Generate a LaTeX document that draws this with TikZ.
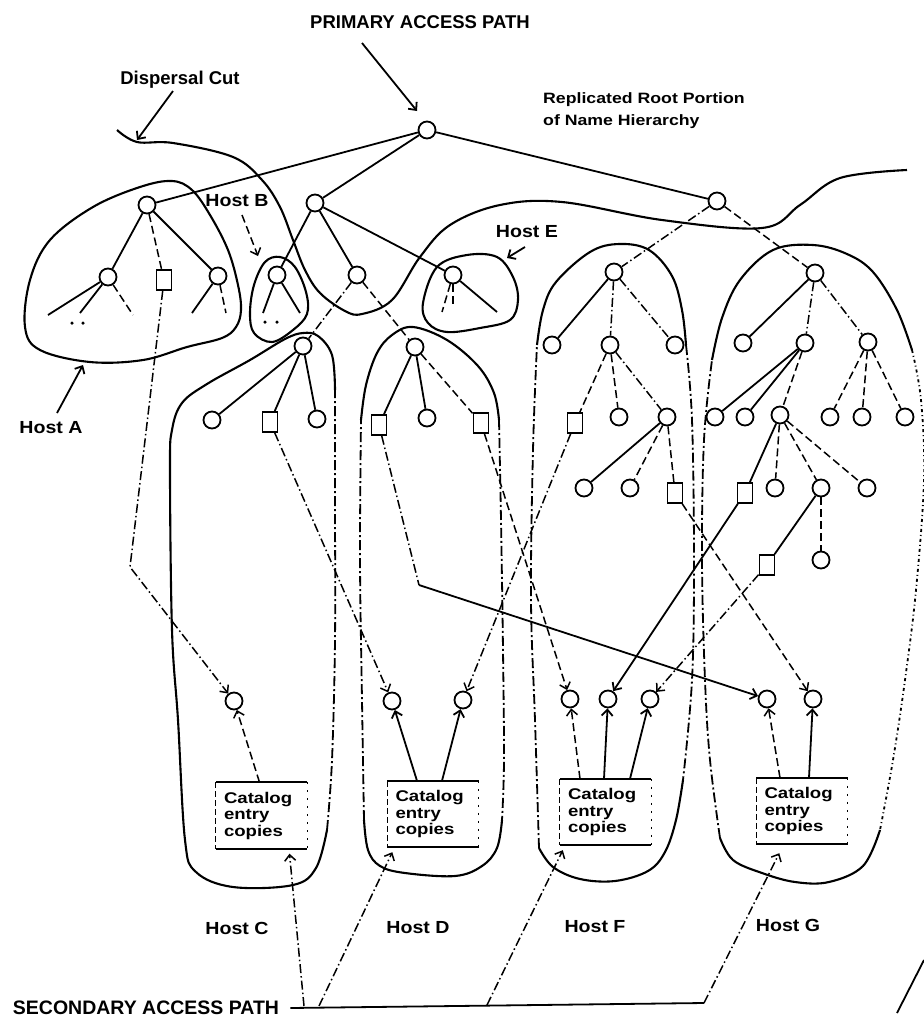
\documentclass[tikz,border=0pt]{standalone}
\usepackage{fontspec}
\setmainfont{Liberation Sans}
\newfontfamily\hfont[FakeStretch=1.12]{Liberation Sans}
\newfontfamily\rfont[FakeStretch=1.18]{Liberation Sans}
\newfontfamily\bxfont[FakeStretch=1.2]{Liberation Sans}
\usetikzlibrary{arrows.meta,calc}
\begin{document}
\begin{tikzpicture}[x=1pt,y=-1pt,
  cn/.style={circle,draw,line width=1.8pt,minimum size=17pt,inner sep=0pt},
  sq/.style={rectangle,draw,line width=1.8pt,minimum width=15pt,minimum height=20pt,inner sep=0pt},
  sol/.style={line width=1.8pt},
  dd/.style={line width=1.5pt,dash pattern=on 9pt off 3pt on 1.5pt off 3pt},
  ds/.style={line width=1.5pt,dash pattern=on 8pt off 4pt},
  outl/.style={line width=2.1pt},
  outd/.style={line width=1.8pt,dash pattern=on 10pt off 3pt on 2pt off 3pt},
  outdot/.style={line width=1.8pt,dash pattern=on 3pt off 3pt on 1pt off 3pt},
  tip/.style={-{Straight Barb[length=6pt,width=11pt]}},
  hl/.style={font=\hfont\bfseries\fontsize{17.5}{20}\selectfont,inner sep=0pt},
  big/.style={font=\bfseries\fontsize{18.5}{21}\selectfont,inner sep=0pt},
  catbox/.style={text width=75pt,inner xsep=8pt,inner ysep=0pt,minimum height=66pt,align=left,font=\bxfont\bfseries\fontsize{15.5}{16.5}\selectfont},
  dotn/.style={circle,fill,inner sep=0pt,minimum size=3.5pt}
]
\useasboundingbox (0,0) rectangle (924,1026);

% ---------- texts ----------
\node[big] (prim) at (420,22) {PRIMARY ACCESS PATH};
\node[big] (disp) at (180,80) {Dispersal Cut};
\node[anchor=west,align=left,inner sep=0pt,font=\rfont\bfseries\fontsize{15}{22}\selectfont] (rep) at (543,111) {Replicated Root Portion\\of Name Hierarchy};
\node[hl] (hA) at (51,428) {Host A};
\node[hl] (hB) at (237,201) {Host B};
\node[hl] (hE) at (527,232) {Host E};
\node[hl] (hC) at (237,928) {Host C};
\node[hl] (hD) at (418,928) {Host D};
\node[hl] (hF) at (595,927) {Host F};
\node[hl] (hG) at (788,925) {Host G};
\node[inner sep=0pt,font=\bfseries\fontsize{19.5}{22}\selectfont] (sec) at (146,1008) {SECONDARY ACCESS PATH};

% ---------- host outlines ----------
\draw[outl] plot[smooth cycle,tension=0.6] coordinates {(25,327) (30,280) (50,240) (93,207) (140,187) (172,181) (192,190) (210,215) (228,250) (238,285) (241,310) (236,327) (222,338) (187,347) (143,360) (90,362) (40,350)};
\draw[outl] plot[smooth cycle,tension=0.6] coordinates {(250,313) (254,285) (265,262) (280,257) (295,267) (306,292) (307,314) (293,330) (272,342) (254,333)};
\draw[outl] plot[smooth cycle,tension=0.6] coordinates {(423,303) (437,267) (467,255) (497,257) (513,277) (518,300) (510,320) (480,328) (447,332) (428,323)};
% Host C
\draw[outl] plot[smooth,tension=0.6] coordinates {(335,390) (332,355) (318,336) (303,333) (285,339) (250,360) (207,384) (182,403) (172,430) (170,470) (172,630) (178,720) (185,840) (196,872) (233,887) (293,885) (316,868) (327,830)};
\draw[outd] plot[smooth,tension=0.6] coordinates {(327,830) (332,760) (335,640) (335,500) (335,390)};
% Host D
\draw[outl] plot[smooth,tension=0.6] coordinates {(361,420) (366,385) (377,353) (392,335) (413,327) (447,340) (478,366) (494,393) (499,420)};
\draw[outd] plot[smooth,tension=0.6] coordinates {(499,420) (501,520) (503,650) (504,760) (502,820)};
\draw[outl] plot[smooth,tension=0.6] coordinates {(502,820) (497,848) (482,866) (455,876) (405,873) (380,866) (368,850) (364,820)};
\draw[outd] plot[smooth,tension=0.6] coordinates {(364,820) (362,700) (360,560) (361,420)};
% Host F
\draw[outl] plot[smooth,tension=0.6] coordinates {(537,345) (543,310) (556,282) (590,252) (619,244) (649,250) (672,276) (682,310) (686,345)};
\draw[outd] plot[smooth,tension=0.6] coordinates {(686,345) (692,420) (694,560) (692,680) (683,780)};
\draw[outl] plot[smooth,tension=0.6] coordinates {(683,780) (676,820) (665,852) (648,871) (615,881) (580,879) (553,867) (539,848)};
\draw[outd] plot[smooth,tension=0.6] coordinates {(539,848) (535,720) (531,600) (533,450) (537,345)};
% Host G
\draw[outl] plot[smooth,tension=0.6] coordinates {(712,360) (722,318) (740,280) (773,250) (813,245) (847,254) (873,272) (897,310) (912,350)};
\draw[outdot] plot[smooth,tension=0.6] coordinates {(912,350) (921,400) (924,480) (916,590) (905,680) (893,760) (880,830)};
\draw[outl] plot[smooth,tension=0.6] coordinates {(880,830) (863,866) (829,882) (795,882) (762,873) (733,860) (720,838)};
\draw[outd] plot[smooth,tension=0.6] coordinates {(720,838) (710,760) (705,680) (702,560) (704,440) (712,360)};

% dispersal cut
\draw[outl] plot[smooth,tension=0.6] coordinates {(117,130) (137,142) (173,143) (233,157) (262,180) (280,207) (293,240) (305,270) (320,293) (345,311) (362,314) (392,300) (420,257) (450,225) (500,205) (562,202) (662,220) (762,228) (800,205) (840,178) (907,170)};

% ---------- tree nodes ----------
\node[cn] (R) at (427,130) {};
\node[cn] (A1) at (147,205) {};
\node[cn] (B1) at (315,203) {};
\node[cn] (G1) at (717,201) {};
\node[cn] (a1) at (108,277) {};
\node[sq] (a2) at (164,280) {};
\node[cn] (a3) at (218,276) {};
\node[cn] (hb) at (277,275) {};
\node[cn] (bm) at (357,275) {};
\node[cn] (he) at (453,275) {};
\node[cn] (cr) at (303,346) {};
\node[cn] (c1) at (212,420) {};
\node[sq] (c2) at (270,422) {};
\node[cn] (c3) at (317,419) {};
\node[cn] (dr) at (415,347) {};
\node[sq] (d1) at (379,425) {};
\node[cn] (d2) at (427,418) {};
\node[sq] (d3) at (481,423) {};
\node[cn] (fr) at (614,272) {};
\node[cn] (f1) at (552,345) {};
\node[cn] (f2) at (610,345) {};
\node[cn] (f3) at (675,345) {};
\node[sq] (f21) at (575,423) {};
\node[cn] (f22) at (619,417) {};
\node[cn] (f23) at (667,417) {};
\node[cn] (f231) at (584,488) {};
\node[cn] (f232) at (630,488) {};
\node[sq] (f233) at (675,493) {};
\node[cn] (gr) at (815,273) {};
\node[cn] (g1) at (743,343) {};
\node[cn] (g2) at (805,343) {};
\node[cn] (g3) at (868,342) {};
\node[cn] (g21) at (715,417) {};
\node[cn] (g22) at (745,417) {};
\node[cn] (g23) at (780,415) {};
\node[cn] (g31) at (830,417) {};
\node[cn] (g32) at (862,417) {};
\node[cn] (g33) at (905,417) {};
\node[sq] (g231) at (745,493) {};
\node[cn] (g232) at (775,488) {};
\node[cn] (g233) at (821,488) {};
\node[cn] (g234) at (867,488) {};
\node[sq] (g2331) at (767,565) {};
\node[cn] (g2332) at (821,560) {};

% leaf ends
\coordinate (a1x1) at (48,315);
\coordinate (a1x2) at (80,313);
\coordinate (a1x3) at (133,315);
\coordinate (a3x1) at (192,313);
\coordinate (a3x2) at (226,313);
\coordinate (hbx1) at (263,313);
\coordinate (hbx2) at (300,313);
\coordinate (hex1) at (442,312);
\coordinate (hex2) at (453,308);
\coordinate (hex3) at (497,312);
\node[dotn] (ad1) at (72,323) {};
\node[dotn] (ad2) at (83,323) {};
\node[dotn] (bd1) at (265,322) {};
\node[dotn] (bd2) at (277,322) {};

% ---------- tree edges ----------
\draw[sol] (R) -- (A1);
\draw[sol] (R) -- (B1);
\draw[sol] (R) -- (G1);
\draw[sol] (A1) -- (a1);
\draw[ds] (A1) -- (a2);
\draw[sol] (A1) -- (a3);
\draw[sol] (a1) -- (a1x1);
\draw[sol] (a1) -- (a1x2);
\draw[ds] (a1) -- (a1x3);
\draw[sol] (a3) -- (a3x1);
\draw[ds] (a3) -- (a3x2);
\draw[sol] (B1) -- (hb);
\draw[sol] (B1) -- (bm);
\draw[sol] (B1) -- (he);
\draw[sol] (hb) -- (hbx1);
\draw[sol] (hb) -- (hbx2);
\draw[ds] (he) -- (hex1);
\draw[ds] (he) -- (hex2);
\draw[sol] (he) -- (hex3);
\draw[dd] (bm) -- (cr);
\draw[ds] (bm) -- (dr);
\draw[sol] (cr) -- (c1);
\draw[sol] (cr) -- (c2);
\draw[sol] (cr) -- (c3);
\draw[sol] (dr) -- (d1);
\draw[sol] (dr) -- (d2);
\draw[ds] (dr) -- (d3);
\draw[dd] (G1) -- (fr);
\draw[ds] (G1) -- (gr);
\draw[sol] (fr) -- (f1);
\draw[dd] (fr) -- (f2);
\draw[dd] (fr) -- (f3);
\draw[ds] (f2) -- (f21);
\draw[ds] (f2) -- (f22);
\draw[dd] (f2) -- (f23);
\draw[sol] (f23) -- (f231);
\draw[ds] (f23) -- (f232);
\draw[ds] (f23) -- (f233);
\draw[sol] (gr) -- (g1);
\draw[dd] (gr) -- (g2);
\draw[dd] (gr) -- (g3);
\draw[sol] (g2) -- (g21);
\draw[sol] (g2) -- (g22);
\draw[ds] (g2) -- (g23);
\draw[ds] (g3) -- (g31);
\draw[ds] (g3) -- (g32);
\draw[ds] (g3) -- (g33);
\draw[sol] (g23) -- (g231);
\draw[ds] (g23) -- (g232);
\draw[ds] (g23) -- (g233);
\draw[ds] (g23) -- (g234);
\draw[sol] (g233) -- (g2331);
\draw[ds] (g233) -- (g2332);

% ---------- catalog circles and boxes ----------
\node[cn] (cc1) at (234,701) {};
\node[cn] (dc1) at (392,701) {};
\node[cn] (dc2) at (463,700) {};
\node[cn] (fc1) at (570,699) {};
\node[cn] (fc2) at (608,699) {};
\node[cn] (fc3) at (650,699) {};
\node[cn] (gc1) at (767,699) {};
\node[cn] (gc2) at (813,699) {};

\node[catbox] (bC) at (261.5,815.5) {Catalog\\entry\\copies};
\node[catbox] (bD) at (433,814) {Catalog\\entry\\copies};
\node[catbox] (bF) at (605.5,812) {Catalog\\entry\\copies};
\node[catbox] (bG) at (802,811) {Catalog\\entry\\copies};
\foreach \b in {bC,bD,bF,bG}{
  \draw[outl] (\b.north west) -- (\b.north east);
  \draw[outl] (\b.south west) -- (\b.south east);
  \draw[line width=1.1pt,dash pattern=on 6pt off 3pt] (\b.north west) -- (\b.south west);
  \draw[line width=1.1pt,dash pattern=on 2pt off 6pt] (\b.north east) -- (\b.south east);
}

\draw[ds,tip] ($(bC.north)+(-2,0)$) -- (cc1);
\draw[sol,tip] ($(bD.north)+(-16,0)$) -- (dc1);
\draw[sol,tip] ($(bD.north)+(9,0)$) -- (dc2);
\draw[ds,tip] ($(bF.north)+(-25.5,0)$) -- (fc1);
\draw[sol,tip] ($(bF.north)+(-1.5,0)$) -- (fc2);
\draw[sol,tip] ($(bF.north)+(24.5,0)$) -- (fc3);
\draw[ds,tip] ($(bG.north)+(-22,0)$) -- (gc1);
\draw[sol,tip] ($(bG.north)+(7,0)$) -- (gc2);

% ---------- cross links ----------
\coordinate (ka) at (130,567);
\coordinate (kd) at (419,585);
\draw[dd,tip] (a2) -- (ka) -- (cc1);
\draw[dd,tip] (c2) -- (dc1);
\draw[dd] (d1) -- (kd);
\draw[sol,tip] (kd) -- (gc1);
\draw[ds,tip] (d3) -- (fc1);
\draw[dd,tip] (f21) -- (dc2);
\draw[ds,tip] (f233) -- (gc2);
\draw[sol,tip] (g231) -- (fc2);
\draw[dd,tip] (g2331) -- (fc3);

% ---------- label arrows ----------
\coordinate (pa0) at (362,43);
\coordinate (pa1) at (417,111);
\draw[sol,tip] (pa0) -- (pa1);
\coordinate (dc0) at (173,91);
\coordinate (dcx) at (137,140);
\draw[sol,tip] (dc0) -- (dcx);
\coordinate (ha0) at (57,413);
\coordinate (ha1) at (83,365);
\draw[sol,tip] (ha0) -- (ha1);
\coordinate (hb0) at (242,215);
\coordinate (hb1) at (258,256);
\draw[ds,tip] (hb0) -- (hb1);
\coordinate (he0) at (525,247);
\coordinate (he1) at (507,258);
\draw[sol,tip] (he0) -- (he1);

% ---------- secondary access path ----------
\coordinate (s1) at (304,1006);
\coordinate (s2) at (319,1006);
\coordinate (s3) at (487,1005);
\coordinate (s4) at (704,1003);
\draw[sol] ([xshift=11pt]sec.east) -- (s4);
\draw[dd,tip] (s1) -- ($(bC.south)+(28,5)$);
\draw[dd,tip] (s2) -- ($(bD.south west)+(5,5)$);
\draw[dd,tip] (s3) -- ($(bF.south west)+(3,5)$);
\draw[dd,tip] (s4) -- ($(bG.south west)+(23,9)$);
\coordinate (st1) at (897,1013);
\coordinate (st2) at (924,960);
\draw[sol] (st1) -- (st2);
\end{tikzpicture}
\end{document}
